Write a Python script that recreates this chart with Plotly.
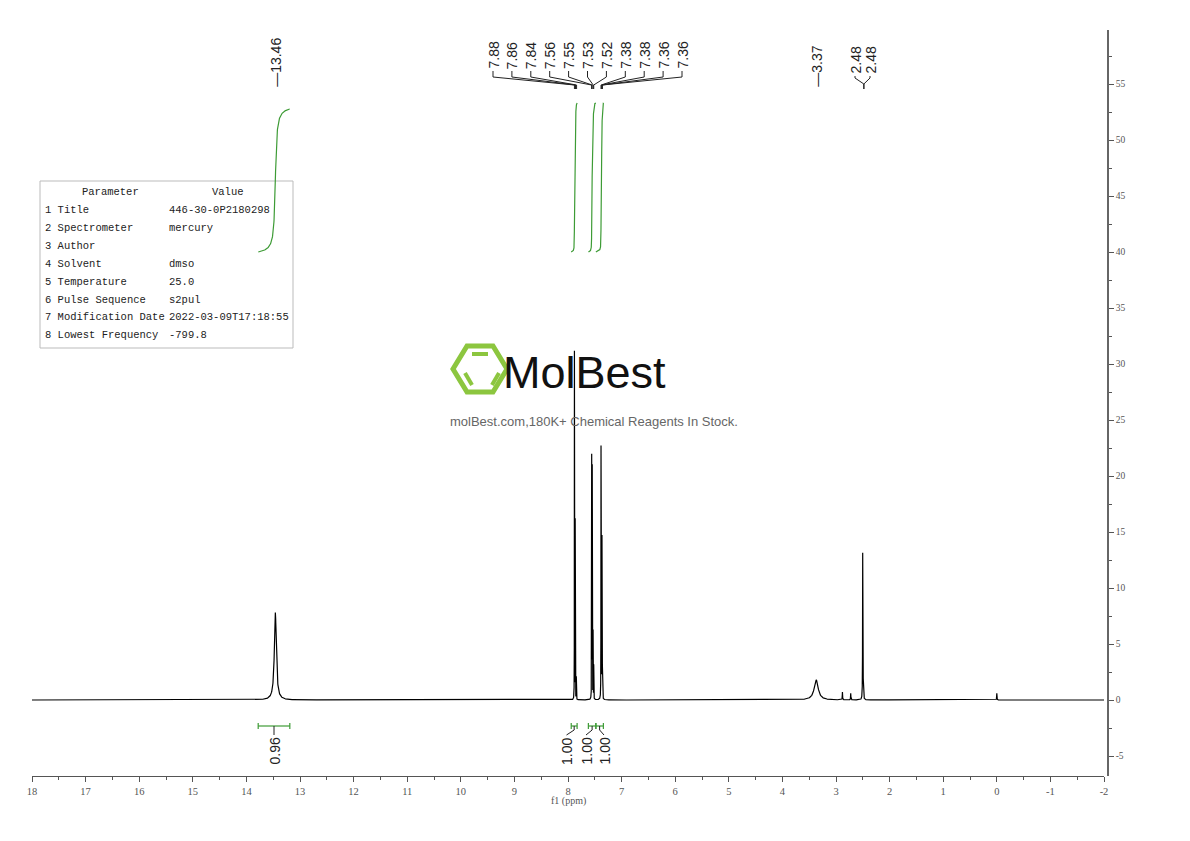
import numpy as np
import plotly.graph_objects as go

# ---------------- data ----------------
peak_ppm = [13.46, 7.880, 7.866, 7.845, 7.558, 7.548, 7.532, 7.520,
            7.384, 7.378, 7.366, 7.360, 3.37, 2.880, 2.725, 2.502, 2.496, 0.00]
peak_height = [7.8, 31.0, 16.0, 2.0, 21.5, 20.5, 6.0, 3.0,
               21.5, 18.6, 14.0, 5.0, 1.8, 0.7, 0.6, 12.4, 5.0, 0.6]
peak_hwhm = [0.022, 0.0012, 0.0015, 0.0015, 0.0015, 0.0015, 0.0015, 0.0015,
             0.0015, 0.0015, 0.0015, 0.0015, 0.045, 0.003, 0.003, 0.0025, 0.0025, 0.003]

single_labels = ["13.46", "3.37"]
single_label_ppm = [13.46, 3.37]

group_labels = ["7.88", "7.86", "7.84", "7.56", "7.55", "7.53", "7.52",
                "7.38", "7.38", "7.36", "7.36"]
group_label_ppm = [7.88, 7.86, 7.84, 7.56, 7.55, 7.53, 7.52, 7.38, 7.38, 7.36, 7.36]

dmso_labels = ["2.48", "2.48"]
dmso_label_ppm = [2.48, 2.48]

integral_regions = [(13.78, 13.19), (7.94, 7.83), (7.62, 7.48), (7.48, 7.34)]
integral_values = [0.96, 1.00, 1.00, 1.00]
integral_labels = ["0.96", "1.00", "1.00", "1.00"]

table_params = ["1 Title", "2 Spectrometer", "3 Author", "4 Solvent", "5 Temperature",
                "6 Pulse Sequence", "7 Modification Date", "8 Lowest Frequency"]
table_values = ["446-30-0P2180298", "mercury", "", "dmso", "25.0",
                "s2pul", "2022-03-09T17:18:55", "-799.8"]

x_ticks = list(range(18, -3, -1))
y_ticks = list(range(-5, 60, 5))

# ---------------- geometry helpers (layout only, screen pixels) ----------------
PAGE_OFF = 8  # default body margin of the html page
FIG_W, FIG_H = 1190 - PAGE_OFF, 841 - PAGE_OFF
L_PX, R_PX, T_PX, B_PX = 32, 1108, 30, 776
X_AXIS_END = 1104
PPM_HI, PPM_LO = 18.0, -2.0
PX_PER_PPM = (X_AXIS_END - L_PX) / (PPM_HI - PPM_LO)
Y0_PX, PX_PER_UNIT = 700.0, 11.2


def px2ppm(px):
    return PPM_HI - (px - L_PX) / PX_PER_PPM


def ppm2px(p):
    return L_PX + (PPM_HI - p) * PX_PER_PPM


def py2y(py):
    return (Y0_PX - py) / PX_PER_UNIT


def pxp(px):
    return (px - L_PX) / (R_PX - L_PX)


def pyp(py):
    return (B_PX - py) / (B_PX - T_PX)


Y_MIN, Y_MAX = py2y(B_PX), py2y(T_PX)

# ---------------- spectrum from peak list ----------------
grid = [np.linspace(PPM_LO, PPM_HI, 10001)]
for p, w in zip(peak_ppm, peak_hwhm):
    if w < 0.01:
        grid.append(np.linspace(p - 0.03, p + 0.03, 601))
grid = np.unique(np.concatenate(grid))[::-1]
spec = np.zeros_like(grid)
for p, h, w in zip(peak_ppm, peak_height, peak_hwhm):
    spec += h / (1.0 + ((grid - p) / w) ** 2)

fig = go.Figure()
fig.add_trace(go.Scatter(x=grid, y=spec, mode="lines",
                         line=dict(color="black", width=1.2),
                         hoverinfo="skip", showlegend=False))

GREEN = "#3d9b35"

# ---------------- integral curves ----------------
INT_BASE = py2y(252)
INT_UNIT = py2y(103) - py2y(252)
for (hi, lo), val in zip(integral_regions, integral_values):
    m = (grid <= hi) & (grid >= lo)
    xs, ys = grid[m], spec[m]
    cum = np.concatenate([[0.0], np.cumsum(0.5 * (ys[1:] + ys[:-1]) * np.abs(np.diff(xs)))])
    cum = INT_BASE + INT_UNIT * val * cum / cum[-1]
    fig.add_trace(go.Scatter(x=xs, y=cum, mode="lines", line=dict(color=GREEN, width=1.2),
                             hoverinfo="skip", showlegend=False))

# ---------------- integral brackets + labels ----------------
label_px = [ppm2px(13.485), 566.5, 586.0, 604.0]
bx, by = [], []
cx, cy = [], []
br_y = py2y(726)
cap = 3 / PX_PER_UNIT
for (hi, lo), lpx in zip(integral_regions, label_px):
    bx += [hi, hi, None, hi, lo, None, lo, lo, None]
    by += [br_y - cap, br_y + cap, None, br_y, br_y, None, br_y - cap, br_y + cap, None]
    mid = 0.5 * (hi + lo)
    cx += [mid, mid, px2ppm(lpx), None]
    cy += [br_y, py2y(730), py2y(735), None]
fig.add_trace(go.Scatter(x=bx, y=by, mode="lines", line=dict(color=GREEN, width=1.2),
                         hoverinfo="skip", showlegend=False))
fig.add_trace(go.Scatter(x=cx, y=cy, mode="lines", line=dict(color="#222", width=1),
                         hoverinfo="skip", showlegend=False))

annotations = []
for txt, lpx in zip(integral_labels, label_px):
    annotations.append(dict(x=px2ppm(lpx), y=py2y(736), xref="x", yref="y", text=txt,
                            textangle=-90, showarrow=False, xanchor="center", yanchor="top",
                            font=dict(family="Liberation Sans, Arial", size=14, color="#222")))

# ---------------- peak labels ----------------
LABEL_FONT = dict(family="Liberation Sans, Arial", size=14, color="#222")
for txt, p in zip(single_labels, single_label_ppm):
    annotations.append(dict(x=p, y=py2y(89), xref="x", yref="y", text="\u2014" + txt,
                            textangle=-90, showarrow=False, xanchor="center", yanchor="bottom",
                            font=LABEL_FONT))

kx, ky = [], []
for i, (txt, p) in enumerate(zip(group_labels, group_label_ppm)):
    lpx = 493 + 18.9 * i
    lx = px2ppm(lpx)
    annotations.append(dict(x=lx, y=py2y(71), xref="x", yref="y", text=txt,
                            textangle=-90, showarrow=False, xanchor="center", yanchor="bottom",
                            font=LABEL_FONT))
    kx += [lx, lx, p, p, None]
    ky += [py2y(71), py2y(77), py2y(85), py2y(89), None]

for i, (txt, p) in enumerate(zip(dmso_labels, dmso_label_ppm)):
    lpx = 855 + 15 * i
    lx = px2ppm(lpx)
    annotations.append(dict(x=lx, y=py2y(76), xref="x", yref="y", text=txt,
                            textangle=-90, showarrow=False, xanchor="center", yanchor="bottom",
                            font=LABEL_FONT))
    kx += [lx, lx, p, p, None]
    ky += [py2y(76), py2y(78), py2y(84), py2y(89), None]

fig.add_trace(go.Scatter(x=kx, y=ky, mode="lines", line=dict(color="#222", width=1),
                         hoverinfo="skip", showlegend=False))

# ---------------- parameter table ----------------
shapes = []
shapes.append(dict(type="rect", xref="paper", yref="paper",
                   x0=pxp(40), x1=pxp(293), y0=pyp(348), y1=pyp(181),
                   line=dict(color="#bbbbbb", width=1), fillcolor="white", layer="below"))
TFONT = dict(family="Liberation Mono, DejaVu Sans Mono, monospace", size=10.5, color="#222")
annotations.append(dict(x=pxp(110), y=pyp(192), xref="paper", yref="paper", text="Parameter",
                        showarrow=False, xanchor="center", yanchor="middle", font=TFONT))
annotations.append(dict(x=pxp(228), y=pyp(192), xref="paper", yref="paper", text="Value",
                        showarrow=False, xanchor="center", yanchor="middle", font=TFONT))
for i, (pn, pv) in enumerate(zip(table_params, table_values)):
    ypx = 210 + 17.9 * i
    annotations.append(dict(x=pxp(43), y=pyp(ypx), xref="paper", yref="paper", text=pn,
                            showarrow=False, xanchor="left", yanchor="middle", font=TFONT))
    if pv:
        annotations.append(dict(x=pxp(167), y=pyp(ypx), xref="paper", yref="paper", text=pv,
                                showarrow=False, xanchor="left", yanchor="middle", font=TFONT))

# ---------------- watermark logo ----------------
LOGO_GREEN = "#8cc63f"
hexv = [(453, 369), (467, 346), (493, 346), (507, 369), (493, 392), (467, 392)]
path = "M " + " L ".join(f"{pxp(a):.5f},{pyp(b):.5f}" for a, b in hexv) + " Z"
shapes.append(dict(type="path", xref="paper", yref="paper", path=path,
                   line=dict(color=LOGO_GREEN, width=5)))
for (a1, b1), (a2, b2) in [((472, 354), (488, 354)), ((465, 373), (472, 385)), ((499, 373), (492, 385))]:
    shapes.append(dict(type="line", xref="paper", yref="paper",
                       x0=pxp(a1), y0=pyp(b1), x1=pxp(a2), y1=pyp(b2),
                       line=dict(color=LOGO_GREEN, width=4)))
annotations.append(dict(x=pxp(584), y=pyp(372), xref="paper", yref="paper", text="MolBest",
                        showarrow=False, xanchor="center", yanchor="middle",
                        font=dict(family="Liberation Sans, Arial", size=45, color="#111")))
annotations.append(dict(x=pxp(594), y=pyp(421), xref="paper", yref="paper",
                        text="molBest.com,180K+ Chemical Reagents In Stock.",
                        showarrow=False, xanchor="center", yanchor="middle",
                        font=dict(family="Liberation Sans, Arial", size=13, color="#666")))

# axis title
annotations.append(dict(x=pxp(568), y=pyp(801), xref="paper", yref="paper", text="f1 (ppm)",
                        showarrow=False, xanchor="center", yanchor="middle",
                        font=dict(family="Liberation Serif, DejaVu Serif", size=10, color="#555")))

TICKFONT = dict(family="Liberation Serif, DejaVu Serif", size=10.5, color="#555")
fig.update_layout(
    width=FIG_W, height=FIG_H,
    margin=dict(l=L_PX - PAGE_OFF, r=FIG_W - (R_PX - PAGE_OFF), t=T_PX - PAGE_OFF,
                b=FIG_H - (B_PX - PAGE_OFF)),
    paper_bgcolor="white", plot_bgcolor="white",
    showlegend=False,
    xaxis=dict(range=[PPM_HI, PPM_LO], domain=[0, (X_AXIS_END - L_PX) / (R_PX - L_PX)],
               tickvals=x_ticks, ticktext=[str(v) for v in x_ticks],
               ticks="outside", ticklen=5, tickcolor="#555", showline=True,
               linecolor="#555", linewidth=1, showgrid=False, zeroline=False,
               tickfont=TICKFONT,
               minor=dict(dtick=0.5, tick0=0, ticks="outside", ticklen=3, tickcolor="#555")),
    yaxis=dict(range=[Y_MIN, Y_MAX], anchor="free", position=1.0, side="right",
               tickvals=y_ticks, ticktext=[str(v) for v in y_ticks],
               ticks="outside", ticklen=5, tickcolor="#555", showline=True,
               linecolor="#666", linewidth=1.5, showgrid=False, zeroline=False,
               tickfont=dict(family="Liberation Serif, DejaVu Serif", size=9.5, color="#555"),
               minor=dict(dtick=2.5, tick0=0, ticks="outside", ticklen=3, tickcolor="#555")),
    shapes=shapes,
    annotations=annotations,
)

fig.write_html("out.html")
